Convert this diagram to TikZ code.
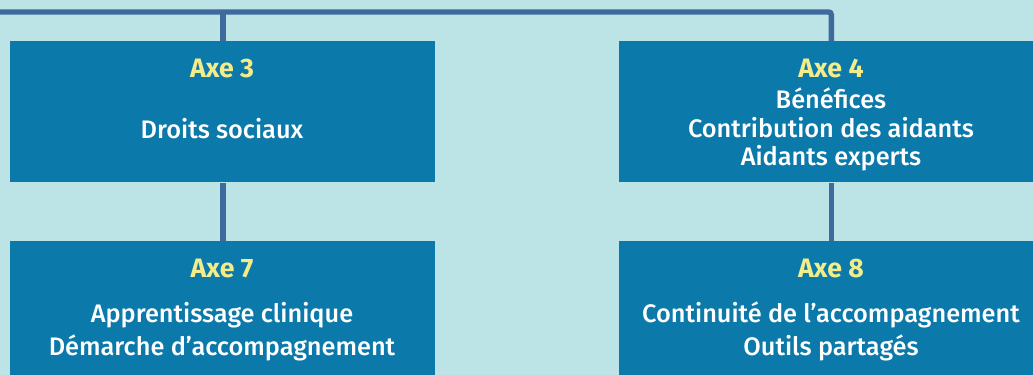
\documentclass[tikz,border=0pt]{standalone}
\usepackage{fontspec}
\IfFontExistsTF{Fira Sans Medium}
  {\setmainfont{Fira Sans}[UprightFont=* Medium, BoldFont=* Bold]}
  {\setmainfont{Fira Sans}}
\definecolor{bgteal}{HTML}{BCE3E6}
\definecolor{boxblue}{HTML}{0B79AA}
\definecolor{linkblue}{HTML}{3E6B9E}
\definecolor{axeyellow}{HTML}{F3EC8A}
\begin{document}
\begin{tikzpicture}[x=0.75pt,y=-0.75pt,
  box/.style={fill=boxblue, draw=none, anchor=north west, inner sep=0pt},
  link/.style={draw=linkblue, line width=4.1pt},
  title/.style={anchor=base, text=axeyellow, font=\fontsize{20}{24}\selectfont\bfseries, inner sep=0pt},
  item/.style={anchor=base, text=white, font=\fontsize{19}{23}\selectfont, inner sep=0pt}]
  \fill[bgteal] (0,0) rectangle (1033,375);
  \useasboundingbox (0,0) rectangle (1033,375);

  % the four axis boxes
  \node[box, minimum width=318.75pt, minimum height=105.75pt] (b3) at (10,41) {};
  \node[box, minimum width=310.5pt,  minimum height=105.75pt] (b4) at (619,41) {};
  \node[box, minimum width=318.75pt, minimum height=100.5pt]  (b7) at (10,241) {};
  \node[box, minimum width=310.5pt,  minimum height=100.5pt]  (b8) at (619,241) {};

  % connectors
  \coordinate (root) at (0,12);
  \draw[link, rounded corners=2pt] (root) -| ([xshift=3.75pt]b4.north);
  \draw[link] (b3.north) -- (b3.north |- root);
  \draw[link] (b3.south) -- (b7.north);
  \draw[link] ([xshift=3.75pt]b4.south) -- ([xshift=3.75pt]b8.north);

  % texts of axis 3
  \node[title] (t3) at (222,77) {Axe 3};
  \node[item] (t3a) at (222,138) {Droits sociaux};
  % texts of axis 4
  \node[title] (t4) at (831,77) {Axe 4};
  \node[item] (t4a) at (831,108) {Bénéfices};
  \node[item] (t4b) at (831,137) {Contribution des aidants};
  \node[item] (t4c) at (831,165) {Aidants experts};
  % texts of axis 7
  \node[title] (t7) at (222,277) {Axe 7};
  \node[item] (t7a) at (222,322) {Apprentissage clinique};
  \node[item] (t7b) at (222,355) {Démarche d’accompagnement};
  % texts of axis 8
  \node[title] (t8) at (831,277) {Axe 8};
  \node[item] (t8a) at (831,322) {Continuité de l’accompagnement};
  \node[item] (t8b) at (831,355) {Outils partagés};
\end{tikzpicture}
\end{document}
